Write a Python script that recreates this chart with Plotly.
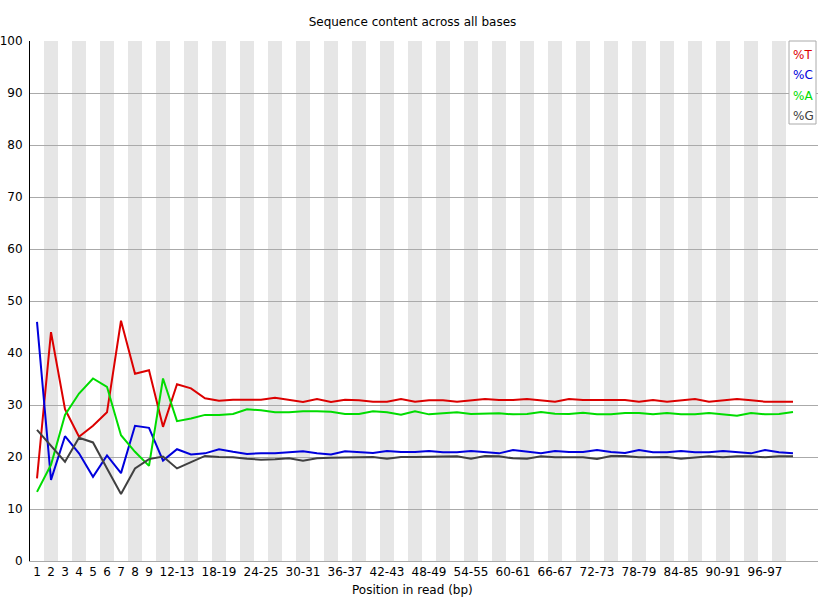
import plotly.graph_objects as go

# Categories (position in read)
categories = [str(i) for i in range(1, 10)] + [f"{a}-{a+1}" for a in range(10, 101, 2)]

tick_labels = ["1", "2", "3", "4", "5", "6", "7", "8", "9", "12-13", "18-19", "24-25",
               "30-31", "36-37", "42-43", "48-49", "54-55", "60-61", "66-67", "72-73",
               "78-79", "84-85", "90-91", "96-97"]

pct_T = [15.9, 44.0, 29.2, 23.9, 26.0, 28.6, 46.2, 36.0, 36.7, 25.8, 34.0, 33.2, 31.3, 30.8,
         31.0, 31.0, 31.0, 31.4, 31.0, 30.6, 31.15, 30.6, 31.0,
         30.9, 30.64, 30.64, 31.15, 30.64, 30.9, 30.9, 30.64, 30.9, 31.15, 30.96,
         30.96, 31.15, 30.9, 30.64, 31.15, 30.96, 30.96, 30.96, 30.96, 30.64, 30.96,
         30.64, 30.96, 31.15, 30.64, 30.96, 31.15, 30.9, 30.64, 30.64, 30.64]

pct_C = [46.0, 15.6, 24.0, 20.7, 16.2, 20.3, 16.9, 26.0, 25.6, 19.3, 21.5, 20.5, 20.7, 21.5,
         21.0, 20.6, 20.7, 20.7, 20.9, 21.1, 20.7, 20.5, 21.1,
         20.96, 20.77, 21.15, 20.96, 20.96, 21.15, 20.9, 20.9, 21.15, 20.9, 20.7,
         21.35, 20.96, 20.7, 21.15, 20.96, 20.96, 21.35, 20.96, 20.77, 21.35, 20.9,
         20.9, 21.15, 20.9, 20.9, 21.15, 20.9, 20.7, 21.35, 20.9, 20.7]

pct_A = [13.3, 18.5, 28.1, 32.2, 35.1, 33.5, 24.2, 21.0, 18.3, 35.1, 26.9, 27.4, 28.1, 28.1,
         28.27, 29.17, 28.97, 28.6, 28.6, 28.78, 28.78, 28.7, 28.27,
         28.27, 28.78, 28.6, 28.14, 28.78, 28.2, 28.4, 28.6, 28.27, 28.27, 28.4,
         28.2, 28.27, 28.65, 28.33, 28.27, 28.52, 28.2, 28.2, 28.46, 28.46, 28.2,
         28.46, 28.2, 28.2, 28.46, 28.2, 27.95, 28.46, 28.2, 28.27, 28.65]

pct_G = [25.2, 22.2, 19.1, 23.7, 22.8, 17.8, 12.9, 17.8, 19.6, 20.1, 17.8, 19.0, 20.2, 20.0,
         19.94, 19.68, 19.49, 19.55, 19.74, 19.3, 19.74, 19.87, 19.87,
         20.0, 20.0, 19.68, 20.0, 20.0, 20.0, 20.0, 20.13, 19.68, 20.2, 20.13,
         19.74, 19.68, 20.13, 19.94, 19.94, 19.94, 19.62, 20.2, 20.2, 19.94, 19.94,
         20.0, 19.68, 19.94, 20.13, 19.94, 20.13, 20.13, 19.94, 20.13, 20.13]

series_names = ["%T", "%C", "%A", "%G"]
series_values = [pct_T, pct_C, pct_A, pct_G]
series_colors = ["rgb(220,0,0)", "rgb(0,0,220)", "rgb(0,220,0)", "rgb(64,64,64)"]

x_idx = list(range(len(categories)))
tick_vals = [categories.index(t) for t in tick_labels]

FONT = "DejaVu Sans"

fig = go.Figure()
for name, vals, col in zip(series_names, series_values, series_colors):
    fig.add_trace(go.Scatter(x=x_idx, y=vals, mode="lines", name=name,
                             line=dict(color=col, width=2), hoverinfo="x+y+name"))

# alternating background stripes
shapes = []
for k in x_idx:
    if k % 2 == 1:
        shapes.append(dict(type="rect", xref="x", yref="paper", x0=k - 0.5, x1=k + 0.5,
                           y0=0, y1=1, fillcolor="rgb(230,230,230)", line=dict(width=0),
                           layer="below"))

# legend box
L, R, T, B = 30, 818, 41, 561
W, H = R - L, B - T
def px_x(px):
    return (px - L) / W
def px_y(py):
    return (B - py) / H

shapes.append(dict(type="rect", xref="paper", yref="paper",
                   x0=px_x(789), x1=px_x(816), y0=px_y(124), y1=px_y(41),
                   fillcolor="white", line=dict(color="rgb(170,170,170)", width=1),
                   layer="above"))

annotations = []
for i, (name, col) in enumerate(zip(series_names, series_colors)):
    annotations.append(dict(xref="paper", yref="paper", x=px_x(791), y=px_y(55 + 20.3 * i),
                            text=name, showarrow=False, xanchor="left", yanchor="middle",
                            font=dict(family=FONT, size=12, color=col)))

annotations.append(dict(xref="paper", yref="paper", x=px_x(412), y=px_y(590),
                        text="Position in read (bp)", showarrow=False,
                        xanchor="center", yanchor="middle",
                        font=dict(family=FONT, size=12, color="black")))

fig.update_layout(
    width=825, height=600,
    margin=dict(l=L, r=825 - R, t=T, b=600 - B, autoexpand=False),
    paper_bgcolor="white", plot_bgcolor="white",
    showlegend=False,
    title=dict(text="Sequence content across all bases", x=0.5, xref="container",
               xanchor="center", y=1 - 22 / 600, yref="container", yanchor="middle",
               font=dict(family=FONT, size=12, color="black")),
    font=dict(family=FONT, size=12, color="black"),
    shapes=shapes, annotations=annotations,
)
fig.update_xaxes(range=[-0.5, W / 14 - 0.5], tickmode="array", tickvals=tick_vals,
                 ticktext=tick_labels, showgrid=False, zeroline=False, automargin=False,
                 showline=True, linecolor="rgb(170,170,170)", linewidth=1,
                 ticks="", tickfont=dict(family=FONT, size=12, color="black"))
fig.update_yaxes(range=[0, 100], dtick=10, tick0=0, showgrid=True, automargin=False,
                 gridcolor="rgb(170,170,170)", gridwidth=1, zeroline=False,
                 showline=True, linecolor="black", linewidth=1, ticks="",
                 ticklabelstandoff=4,
                 tickfont=dict(family=FONT, size=12, color="black"))

fig.write_html("out.html", config={"displayModeBar": False},
               post_script="document.body.style.margin='0';document.body.style.padding='0';")
